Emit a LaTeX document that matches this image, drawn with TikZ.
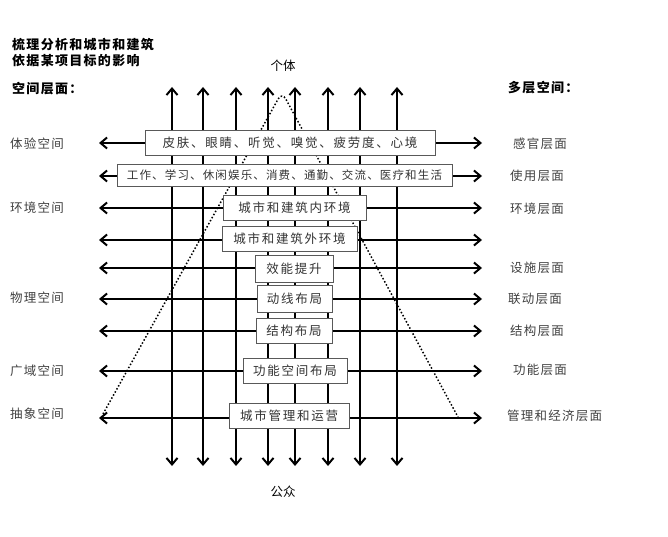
\documentclass[tikz,border=0pt]{standalone}
\usepackage{fontspec}
\newfontfamily\cjk{Noto Sans CJK SC}
\usetikzlibrary{arrows.meta}
\begin{document}
\begin{tikzpicture}[x=1pt,y=-1pt,
  tip/.tip={Straight Barb[length=6.5pt,width=11pt,line width=2pt]},
  axis/.style={line width=2.2pt,{tip}-{tip}},
  tri/.style={dotted,line width=1.5pt,rounded corners=8pt},
  box/.style={draw=black!65,line width=0.7pt,fill=white,inner sep=0pt,minimum height=25pt,
    font=\cjk\fontsize{12.5}{13}\selectfont\addfontfeature{LetterSpace=14},text=black!80},
  lbl/.style={anchor=west,inner sep=0pt,font=\cjk\fontsize{12.5}{13}\selectfont\addfontfeature{LetterSpace=10},text=black!75},
  ttl/.style={anchor=west,inner sep=0pt,font=\cjk\bfseries\fontsize{13}{15}\selectfont\addfontfeature{LetterSpace=10},text=black}]
\useasboundingbox (0,0) rectangle (668,537);
% vertical axes
\foreach \i/\x in {1/172,2/203,3/236,4/268,5/295,6/328,7/360,8/397}{
  \coordinate (T\i) at (\x,87);
  \coordinate (B\i) at (\x,466);
  \draw[axis] (B\i) -- (T\i);
}
% horizontal axes
\foreach \i/\y in {1/143,2/176,3/208,4/240,5/268,6/299,7/331,8/371,9/418}{
  \coordinate (L\i) at (99,\y);
  \coordinate (R\i) at (482,\y);
  \draw[axis] (L\i) -- (R\i);
}
% dotted triangle
\coordinate (TA) at (282,92);
\coordinate (TL) at (103,414);
\coordinate (TR) at (458,417);
\draw[tri] (TL) -- (TA) -- (TR);
% boxes
\node[box,minimum width=290pt] (b1) at (290,143) {皮肤、眼睛、听觉、嗅觉、疲劳度、心境};
\node[box,minimum width=335pt,minimum height=22pt,font=\cjk\fontsize{11.5}{12}\selectfont\addfontfeature{LetterSpace=10}] (b2) at (284.5,175) {工作、学习、休闲娱乐、消费、通勤、交流、医疗和生活};
\node[box,minimum width=143pt] (b3) at (294.5,208) {城市和建筑内环境};
\node[box,minimum width=135pt] (b4) at (289.5,239) {城市和建筑外环境};
\node[box,minimum width=78pt,minimum height=27pt] (b5) at (294,269) {效能提升};
\node[box,minimum width=75pt,minimum height=27pt] (b6) at (294.5,299) {动线布局};
\node[box,minimum width=76pt] (b7) at (294,331) {结构布局};
\node[box,minimum width=104pt] (b8) at (295,371) {功能空间布局};
\node[box,minimum width=120pt] (b9) at (289,416) {城市管理和运营};
% titles
\node[ttl] (t1) at (12,45) {梳理分析和城市和建筑};
\node[ttl] (t2) at (12,61) {依据某项目标的影响};
\node[ttl] (t3) at (12,89) {空间层面：};
\node[ttl] (t4) at (508,88) {多层空间：};
\node[ttl,anchor=center,font=\cjk\fontsize{12.5}{13}\selectfont] (ind) at (283,66) {个体};
\node[ttl,anchor=center,font=\cjk\fontsize{12.5}{13}\selectfont] (pub) at (283,492) {公众};
% left labels
\node[lbl] (l1) at (10,144) {体验空间};
\node[lbl] (l2) at (10,208) {环境空间};
\node[lbl] (l3) at (10,298) {物理空间};
\node[lbl] (l4) at (10,371) {广域空间};
\node[lbl] (l5) at (10,414) {抽象空间};
% right labels
\node[lbl] (r1) at (513,144) {感官层面};
\node[lbl] (r2) at (510,176) {使用层面};
\node[lbl] (r3) at (510,209) {环境层面};
\node[lbl] (r4) at (510,268) {设施层面};
\node[lbl] (r5) at (508,299) {联动层面};
\node[lbl] (r6) at (510,331) {结构层面};
\node[lbl] (r7) at (513,370) {功能层面};
\node[lbl] (r8) at (507,416) {管理和经济层面};
\end{tikzpicture}
\end{document}
